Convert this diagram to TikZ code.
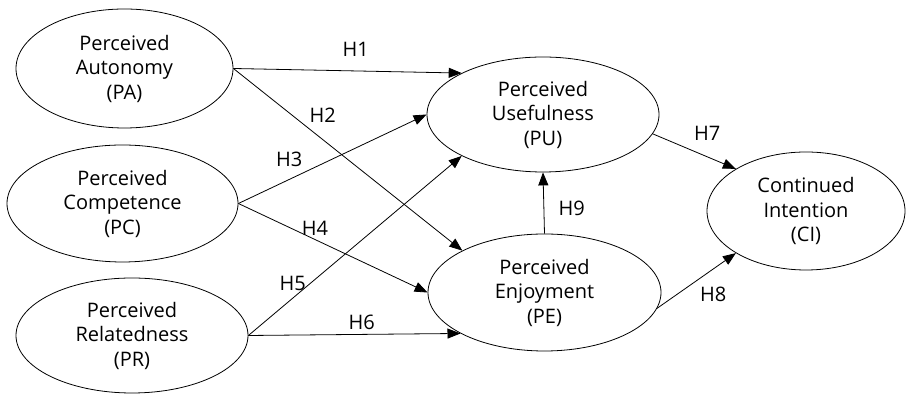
\documentclass[tikz,border=0pt]{standalone}
\usepackage{fontspec}
\setmainfont{Open Sans}
\usetikzlibrary{shapes.geometric,arrows.meta}
\begin{document}
\begin{tikzpicture}[x=1pt,y=1pt,
  cons/.style={draw, ellipse, line width=0.8pt, inner sep=0pt, align=center,
    font=\fontsize{20}{24.5}\selectfont},
  link/.style={line width=0.8pt, -{Triangle[length=13pt,width=10pt]}},
  hyp/.style={font=\fontsize{20}{23}\selectfont, inner sep=0pt}]
\useasboundingbox (0,0) rectangle (906,395);
% constructs
\node[cons, minimum width=217pt, minimum height=119pt] (PA) at (124.5,326.5) {Perceived\\Autonomy\\(PA)};
\node[cons, minimum width=231pt, minimum height=117pt] (PC) at (122.5,191.5) {Perceived\\Competence\\(PC)};
\node[cons, minimum width=232pt, minimum height=115pt] (PR) at (132,59.5) {Perceived\\Relatedness\\(PR)};
\node[cons, minimum width=232pt, minimum height=115pt] (PU) at (543,280.5) {Perceived\\Usefulness\\(PU)};
\node[cons, minimum width=233pt, minimum height=117pt] (PE) at (544.5,102.5) {Perceived\\Enjoyment\\(PE)};
\node[cons, minimum width=198pt, minimum height=118pt] (CI) at (806,184) {Continued\\Intention\\(CI)};
% paths
\draw[link] (PA.east) -- (PU.153);
\draw[link] (PA.east) -- (PE.153);
\draw[link] (PC.east) -- (PU.west);
\draw[link] (PC.east) -- (PE.west);
\draw[link] (PR.east) -- (PU.207);
\draw[link] (PR.east) -- (PE.206);
\draw[link] (PU.350) -- (CI.149);
\draw[link] (PE.352) -- (CI.211);
\draw[link] (PE.north) -- (PU.south);
% labels
\node[hyp] (h1) at (355.7,345.7) {H1};
\node[hyp] (h2) at (322.7,280) {H2};
\node[hyp] (h3) at (289.3,236) {H3};
\node[hyp] (h4) at (315,167) {H4};
\node[hyp] (h5) at (292.7,112) {H5};
\node[hyp] (h6) at (361.7,73) {H6};
\node[hyp] (h7) at (707.3,262) {H7};
\node[hyp] (h8) at (713.3,101) {H8};
\node[hyp] (h9) at (571.7,187) {H9};
\end{tikzpicture}
\end{document}
